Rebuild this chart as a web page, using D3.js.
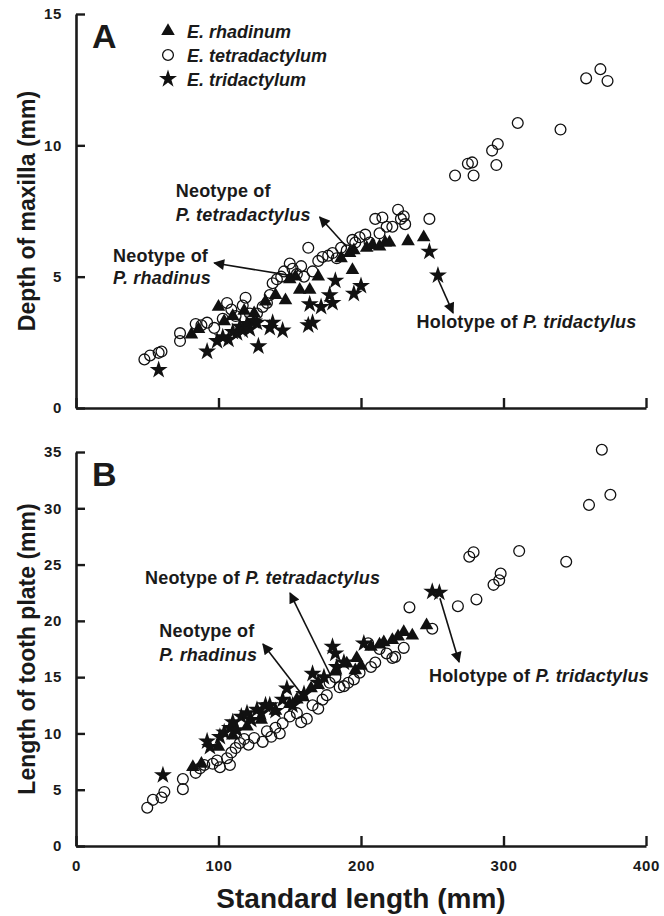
<!DOCTYPE html>
<html><head><meta charset="utf-8">
<script src="https://cdn.jsdelivr.net/npm/d3@7"></script>
<style>
html,body{margin:0;padding:0;background:#fff;}
svg{display:block;}
text{font-family:"Liberation Sans",Arial,Helvetica,sans-serif;font-weight:bold;fill:#1a1a1a;}
</style></head>
<body>
<script>
// ---------- data ----------
const xTicks = [0, 100, 200, 300, 400];
const yTicksA = [0, 5, 10, 15];
const yTicksB = [0, 5, 10, 15, 20, 25, 30, 35];
const seriesNames = ["E. rhadinum", "E. tetradactylum", "E. tridactylum"];

// Panel A: depth of maxilla vs standard length
const tetraA = [[48,1.85],[52,2.0],[58,2.1],[60,2.15],[73,2.85],[73,2.55],[84,3.2],[88,3.15],[92,3.25],[97,3.05],[103,3.4],[106,4.0],[109,3.75],[112,3.5],[117,3.9],[119,4.2],[122,3.6],[127,3.6],[131,3.85],[134,4.0],[136,4.3],[138,4.75],[141,4.9],[144,5.0],[146,5.2],[150,5.5],[152,5.3],[155,5.1],[158,5.4],[163,6.1],[160,5.0],[166,5.2],[170,5.6],[173,5.75],[177,5.8],[180,5.9],[183,5.7],[186,6.1],[190,6.0],[194,6.4],[196,6.3],[199,6.5],[203,6.6],[206,6.3],[210,7.2],[215,7.25],[213,6.65],[218,6.9],[222,6.9],[226,7.55],[228,7.2],[230,7.3],[231,7.0],[248,7.2],[266,8.85],[275,9.3],[278,9.35],[279,8.85],[292,9.8],[296,10.05],[295,9.25],[310,10.85],[340,10.6],[358,12.55],[368,12.9],[373,12.45]];
const rhadA = [[81,2.8],[86,3.0],[100,3.85],[104,3.3],[110,3.5],[118,3.7],[125,3.6],[133,4.05],[140,4.3],[147,4.1],[150,4.9],[154,5.0],[157,4.5],[164,4.5],[170,5.0],[186,5.7],[192,5.9],[194,5.25],[195,6.0],[204,6.1],[208,6.2],[213,6.15],[217,6.3],[220,6.3],[233,6.35],[244,6.5]];
const tridA = [[58,1.45],[92,2.15],[99,2.55],[103,2.7],[107,2.6],[110,2.9],[113,2.85],[115,3.1],[117,2.95],[120,3.2],[122,3.0],[125,3.3],[127,3.25],[128,2.35],[136,3.05],[138,3.25],[145,2.95],[163,3.15],[166,3.25],[164,3.95],[172,3.85],[178,4.3],[180,4.0],[182,4.85],[195,4.35],[200,4.65],[248,5.95],[254,5.05]];

// Panel B: length of tooth plate vs standard length
const tetraB = [[50,3.4],[54,4.1],[60,4.3],[62,4.8],[75,5.95],[75,5.05],[84,6.5],[87,6.9],[90,7.2],[96,7.3],[99,7.6],[101,7.0],[106,7.8],[108,7.2],[109,8.3],[112,8.7],[115,9.15],[118,9.5],[121,9.0],[125,9.6],[131,9.25],[134,10.2],[137,9.7],[140,10.5],[143,10.0],[145,10.9],[150,11.5],[155,11.8],[158,11.0],[162,11.3],[166,12.5],[170,12.2],[173,13.0],[176,13.4],[178,14.5],[182,15.0],[185,14.1],[188,14.2],[191,14.5],[195,14.8],[199,15.4],[205,18.0],[207,15.9],[210,16.3],[213,17.5],[218,17.1],[222,16.7],[224,16.8],[230,17.6],[234,21.2],[250,19.3],[268,21.3],[276,25.7],[279,26.1],[281,21.9],[293,23.2],[297,23.6],[298,24.2],[311,26.2],[344,25.25],[360,30.3],[369,35.2],[375,31.2]];
const rhadB = [[82,7.0],[88,7.3],[100,8.8],[110,9.8],[120,10.6],[130,11.2],[140,12.0],[150,12.6],[155,13.0],[159,13.2],[165,14.0],[170,14.3],[182,15.5],[190,16.2],[196,15.6],[197,16.7],[200,16.0],[207,17.7],[213,17.9],[216,18.1],[222,18.3],[226,18.6],[230,19.0],[236,18.7],[246,19.6]];
const tridB = [[61,6.3],[92,9.3],[94,8.8],[101,9.7],[104,10.1],[108,10.5],[110,11.0],[113,10.3],[116,11.5],[120,11.8],[123,11.2],[127,12.1],[130,11.8],[133,12.5],[136,12.5],[140,12.0],[145,13.0],[148,14.0],[152,12.5],[160,13.5],[166,15.3],[170,14.5],[174,15.0],[180,17.7],[182,17.1],[183,15.9],[188,16.3],[202,18.0],[250,22.6],[255,22.5]];

// annotations (data units): label lines, anchor, arrow tail -> tip
const annA = [
  {lines:[[["Neotype of",""]],[["P. tetradactylus","i"]]], at:[70,8.03], lh:24, tail:[190,6.13], tip:[171,7.27]},
  {lines:[[["Neotype of",""]],[["P. rhadinus","i"]]], at:[26,5.56], lh:22, tail:[149,5.06], tip:[97,5.52]},
  {lines:[[["Holotype of ",""],["P. tridactylus","i"]]], at:[239,3.05], lh:0, tail:[254,4.91], tip:[264.6,3.62]}
];
const annB = [
  {lines:[[["Neotype of ",""],["P. tetradactylus","i"]]], at:[48.4,23.27], lh:0, tail:[178.2,15.28], tip:[150.2,22.47]},
  {lines:[[["Neotype of",""]],[["P. rhadinus","i"]]], at:[58.5,18.56], lh:24, tail:[157.2,13.68], tip:[131.2,17.94]},
  {lines:[[["Holotype of ",""],["P. tridactylus","i"]]], at:[247.7,14.56], lh:0, tail:[255.4,22.0], tip:[268.8,16.34]}
];

// ---------- drawing ----------
const W = 664, H = 916;
const svg = d3.select("body").append("svg").attr("width", W).attr("height", H);
const defs = svg.append("defs");
defs.append("marker").attr("id","ah").attr("viewBox","0 0 10 10").attr("refX",9).attr("refY",5)
  .attr("markerWidth",14).attr("markerHeight",11).attr("markerUnits","userSpaceOnUse").attr("orient","auto")
  .append("path").attr("d","M0,0 L10,5 L0,10 Z").attr("fill","#111");

const x = d3.scaleLinear().domain([0,400]).range([76,646]);
const yA = d3.scaleLinear().domain([0,15]).range([408,14]);
const yB = d3.scaleLinear().domain([0,35]).range([846,452]);

const tri = d3.symbol().type(d3.symbolTriangle).size(80);
const star = d3.symbol().type(d3.symbolStar).size(100);

function panel(y, yTicks, tetra, rhad, trid, ann, letter, showX) {
  const g = svg.append("g");
  const ax = d3.axisBottom(x).tickValues(xTicks).tickSizeInner(-10).tickSizeOuter(0).tickPadding(14);
  if (!showX) ax.tickFormat("");
  const gx = g.append("g").attr("transform",`translate(0,${y(0)})`).call(ax);
  const ay = d3.axisLeft(y).tickValues(yTicks).tickSizeInner(-9).tickSizeOuter(0).tickPadding(14);
  const gy = g.append("g").attr("transform",`translate(${x(0)},0)`).call(ay);
  [gx,gy].forEach(a=>{
    a.selectAll("path.domain").attr("stroke","#1a1a1a").attr("stroke-width",2.6);
    a.selectAll(".tick line").attr("stroke","#1a1a1a").attr("stroke-width",2.4);
    a.selectAll(".tick text").attr("font-size",15).attr("font-weight","bold").attr("fill","#1a1a1a")
      .attr("letter-spacing",0.6).attr("font-family","Liberation Sans, Arial, sans-serif");
  });
  g.append("g").selectAll("path").data(rhad).join("path")
    .attr("d",tri).attr("transform",d=>`translate(${x(d[0])},${y(d[1])})`).attr("fill","#111");
  g.append("g").selectAll("path").data(trid).join("path")
    .attr("d",star).attr("transform",d=>`translate(${x(d[0])},${y(d[1])})`).attr("fill","#111");
  g.append("g").selectAll("circle").data(tetra).join("circle")
    .attr("cx",d=>x(d[0])).attr("cy",d=>y(d[1])).attr("r",5.4)
    .attr("fill","none").attr("stroke","#111").attr("stroke-width",1.3);
  ann.forEach(a=>{
    g.append("line").attr("x1",x(a.tail[0])).attr("y1",y(a.tail[1]))
      .attr("x2",x(a.tip[0])).attr("y2",y(a.tip[1]))
      .attr("stroke","#111").attr("stroke-width",1.6).attr("marker-end","url(#ah)");
    a.lines.forEach((ln,i)=>{
      const t = g.append("text").attr("x",x(a.at[0])).attr("y",y(a.at[1])+i*a.lh)
        .attr("font-size",18).attr("letter-spacing",0.2);
      ln.forEach(seg=>t.append("tspan").text(seg[0]).attr("font-style",seg[1]==="i"?"italic":"normal"));
    });
  });
  g.append("text").attr("x",x(0)+16).attr("y",y(y.domain()[1])+34).attr("font-size",34).text(letter);
  return g;
}

const gA = panel(yA, yTicksA, tetraA, rhadA, tridA, annA, "A", false);
panel(yB, yTicksB, tetraB, rhadB, tridB, annB, "B", true);

// legend (panel A)
const lg = gA.append("g");
const legY = [31, 55, 79];
const legX = 168;
lg.append("path").attr("d",tri).attr("transform",`translate(${legX},${legY[0]})`).attr("fill","#111");
lg.append("circle").attr("cx",legX).attr("cy",legY[1]).attr("r",5.4).attr("fill","none").attr("stroke","#111").attr("stroke-width",1.3);
lg.append("path").attr("d",star).attr("transform",`translate(${legX},${legY[2]})`).attr("fill","#111");
seriesNames.forEach((n,i)=>{
  lg.append("text").attr("x",legX+19).attr("y",legY[i]+6.5).attr("font-size",18).attr("font-style","italic").text(n);
});

// axis titles
svg.append("text").attr("font-size",23)
  .attr("transform",`translate(35,${yA(7.5)}) rotate(-90)`).attr("text-anchor","middle").text("Depth of maxilla (mm)");
svg.append("text").attr("font-size",23)
  .attr("transform",`translate(35,${yB(17.5)}) rotate(-90)`).attr("text-anchor","middle").text("Length of tooth plate (mm)");
svg.append("text").attr("font-size",28)
  .attr("x",x(200)).attr("y",908).attr("text-anchor","middle").text("Standard length (mm)");
</script>
</body></html>
